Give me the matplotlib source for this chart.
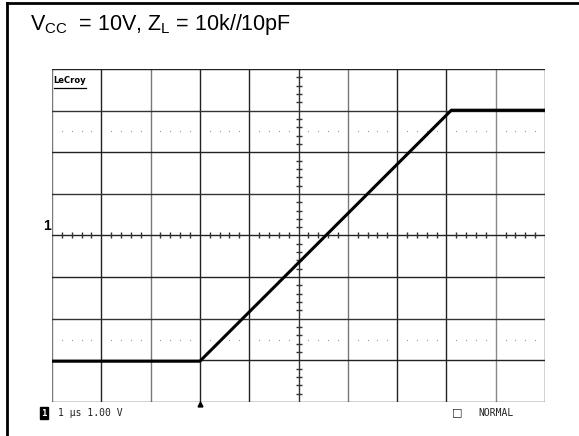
import numpy as np
import matplotlib.pyplot as plt
from matplotlib.lines import Line2D

# scope trace, in divisions (1 us/div, 1 V/div)
trace_t = [-5.0, -2.0, 3.1, 5.0]
trace_v = [-3.02, -3.02, 3.01, 3.01]

title_text = r"V$_{\mathregular{CC}}$  = 10V, Z$_{\mathregular{L}}$ = 10k//10pF"
status_text = "1 \u00b5s 1.00 V"
mode_text = "NORMAL"

W, H = 579, 436
fig = plt.figure(figsize=(W / 100, H / 100), dpi=100)
plt.rcParams['font.family'] = ['Liberation Sans', 'DejaVu Sans']

# outer frame (only left and top edges)
fig.add_artist(Line2D([7 / W, 1], [1 - 3 / H, 1 - 3 / H], color="black", lw=2))
fig.add_artist(Line2D([7.5 / W, 7.5 / W], [0, 1 - 3 / H], color="black", lw=2))

fig.text(30 / W, 1 - 30 / H, title_text, fontsize=15.5, ha="left", va="baseline")

# scope grid area
left, right, top, bottom = 52, 545, 69, 402
ax = fig.add_axes([left / W, 1 - bottom / H, (right - left) / W, (bottom - top) / H])
ax.set_xlim(-5, 5)
ax.set_ylim(-4, 4)
ax.axis("off")

vcols = ["#777", "#222", "#777", "#222", "#222", "#333", "#777", "#222", "#222", "#888", "#222"]
for i, x in enumerate(range(-5, 6)):
    ax.plot([x, x], [-4, 4], color=vcols[i], lw=1, zorder=1)
hcols = ["#222", "#222", "#333", "#222", "#222", "#333", "#222", "#333", "#222"]
for i, y in enumerate(range(-4, 5)):
    ax.plot([-5, 5], [y, y], color=hcols[i], lw=1, zorder=1)

# dotted rows at +-2.5 div
dots = np.arange(-5, 5.01, 0.2)
dots = dots[np.abs(dots - np.round(dots)) > 0.05]
for y in (2.5, -2.5):
    ax.plot(dots, np.full_like(dots, y), ls="none", marker="s", ms=0.8,
            color="#999", mec="none", zorder=1)

# minor ticks on center axes
ax.plot(dots, np.zeros_like(dots), ls="none", marker="|", ms=4.5, mew=1,
        color="#333", zorder=2)
ydots = np.arange(-4, 4.01, 0.2)
ydots = ydots[np.abs(ydots - np.round(ydots)) > 0.05]
ax.plot(np.zeros_like(ydots), ydots, ls="none", marker="_", ms=5, mew=1,
        color="#333", zorder=2)

ax.plot(trace_t, trace_v, color="black", lw=2.2, solid_joinstyle="round", zorder=3)

ax.text(-5.02, 0.05, "1", fontsize=10, fontweight="bold", ha="right", va="bottom")
ax.text(-4.97, 3.72, "LeCroy", fontsize=6, fontweight="bold", family="DejaVu Sans",
        ha="left", va="center")
ax.plot([-4.96, -4.32], [3.55, 3.55], color="black", lw=0.9)

# trigger marker
ax.plot([-2], [-4.05], marker="^", ms=3.5, color="black", clip_on=False)

fig.text(44 / W, 1 - 413 / H, "1", fontsize=6.5, color="white", fontweight="bold",
         family="DejaVu Sans Mono", ha="center", va="center",
         bbox=dict(boxstyle="square,pad=0.15", fc="black", ec="black"))
fig.text(58 / W, 1 - 413 / H, status_text, fontsize=7, family="DejaVu Sans Mono",
         color="#222", ha="left", va="center")
fig.text(452 / W, 1 - 412 / H, "\u25a1", fontsize=8, family="DejaVu Sans",
         color="#222", ha="left", va="center")
fig.text(478 / W, 1 - 413 / H, mode_text, fontsize=7, family="DejaVu Sans Mono",
         color="#222", ha="left", va="center")

fig.savefig("out.png", dpi=100)
